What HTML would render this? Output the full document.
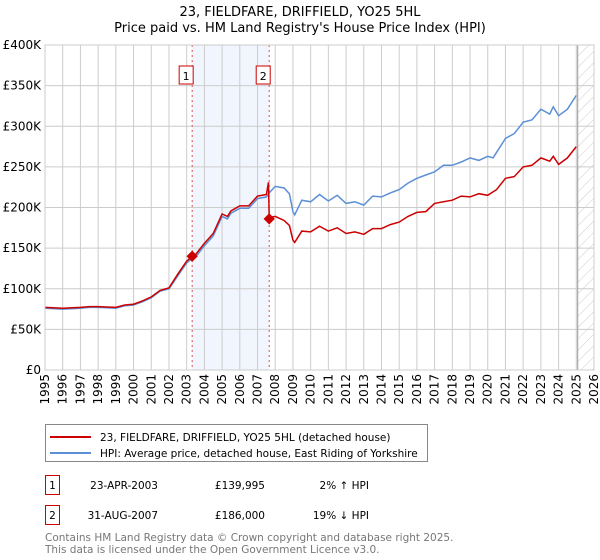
<!DOCTYPE html>
<html><head><meta charset="utf-8">
<style>
body{margin:0;background:#fff;font-family:"Liberation Sans","DejaVu Sans",sans-serif;}
#wrap{position:relative;width:600px;height:560px;overflow:hidden;}
svg text{font-family:"DejaVu Sans","Liberation Sans",sans-serif;}
</style></head>
<body>
<div id="wrap">
<svg id="chart" width="600" height="560"></svg>
</div>
<script>
const hpiYears=[1995,1996,1997,1997.5,1998,1999,1999.5,2000,2000.5,2001,2001.5,2002,2002.5,2003,2003.3,2003.5,2004,2004.5,2005,2005.3,2005.5,2006,2006.5,2007,2007.5,2007.7,2008,2008.5,2008.8,2009,2009.1,2009.5,2010,2010.5,2011,2011.5,2012,2012.5,2013,2013.5,2014,2014.5,2015,2015.5,2016,2016.5,2017,2017.5,2018,2018.5,2019,2019.5,2020,2020.3,2020.5,2021,2021.5,2022,2022.5,2023,2023.5,2023.7,2024,2024.5,2025];
const hpiValues=[76,75,76,77,77,76,79,80,84,89,97,100,116,132,137,139,153,165,189,186,193,199,199,211,213,219,226,224,217,195,191,209,207,216,208,215,205,207,203,214,213,218,222,230,236,240,244,252,252,256,261,258,263,261,268,285,291,305,308,321,315,324,313,321,338];
const redYears=[1995,1996,1997,1997.5,1998,1999,1999.5,2000,2000.5,2001,2001.5,2002,2002.5,2003,2003.31,2003.5,2004,2004.5,2005,2005.3,2005.5,2006,2006.5,2007,2007.5,2007.62,2007.66,2007.7,2008,2008.5,2008.8,2009,2009.1,2009.5,2010,2010.5,2011,2011.5,2012,2012.5,2013,2013.5,2014,2014.5,2015,2015.5,2016,2016.5,2017,2017.5,2018,2018.5,2019,2019.5,2020,2020.5,2021,2021.5,2022,2022.5,2023,2023.5,2023.7,2024,2024.5,2025];
const redValues=[77,76,77,78,78,77,80,81,85,90,98,101,118,134,140,142,156,168,192,189,196,202,202,214,216,231,186,188,189,184,178,160,157,171,170,177,171,175,168,170,167,174,174,179,182,189,194,195,205,207,209,214,213,217,215,222,236,238,250,252,261,257,263,253,261,275];
const sales=[{n:"1",t:2003.31,v:139.995},{n:"2",t:2007.66,v:186}];
const yTicks=[0,50,100,150,200,250,300,350,400];
const yTickLabels=["£0","£50K","£100K","£150K","£200K","£250K","£300K","£350K","£400K"];
const xTicks=[1995,1996,1997,1998,1999,2000,2001,2002,2003,2004,2005,2006,2007,2008,2009,2010,2011,2012,2013,2014,2015,2016,2017,2018,2019,2020,2021,2022,2023,2024,2025,2026];

const L=45,R=594,T=45,B=370,X0=1995,X1=2026;
const xs=t=>L+(t-X0)/(X1-X0)*(R-L);
const ys=v=>B-v/400*(B-T);
const svg=document.getElementById('chart');
const NS='http://www.w3.org/2000/svg';
function mk(tag,attrs,parent){const e=document.createElementNS(NS,tag);for(const k in attrs)e.setAttribute(k,attrs[k]);(parent||svg).appendChild(e);return e;}

let e;
e=mk('text',{x:300,y:16,'text-anchor':'middle','font-size':13,fill:'#000'});e.textContent='23, FIELDFARE, DRIFFIELD, YO25 5HL';


e=mk('text',{x:300,y:32,'text-anchor':'middle','font-size':13,fill:'#000'});e.textContent="Price paid vs. HM Land Registry's House Price Index (HPI)";



e=mk('rect',{x:xs(sales[0].t),y:T,width:xs(sales[1].t)-xs(sales[0].t),height:B-T,fill:'#eef3fc',opacity:0.8});


const defs=mk('defs',{});
const pat=mk('pattern',{id:'hatch',width:8,height:8,patternUnits:'userSpaceOnUse',patternTransform:'rotate(45)'},defs);
mk('line',{x1:0,y1:0,x2:0,y2:8,stroke:'#ccc','stroke-width':1},pat);
const hx=xs(2025.08);
e=mk('rect',{x:hx,y:T,width:R-hx,height:B-T,fill:'url(#hatch)'});



yTicks.forEach((v,i)=>{
  e=mk('line',{x1:L,x2:R,y1:ys(v),y2:ys(v),stroke:'#ccc','stroke-width':1});
  
  
  e=mk('text',{x:L-4,y:ys(v)+4,'text-anchor':'end','font-size':12,fill:'#000'});e.textContent=yTickLabels[i];
  
  
});
xTicks.forEach(t=>{
  e=mk('line',{x1:xs(t),x2:xs(t),y1:T,y2:B,stroke:'#ccc','stroke-width':1});
  
  
  e=mk('text',{x:0,y:0,'text-anchor':'end','font-size':12,fill:'#000',transform:`translate(${xs(t)+4},${B+4}) rotate(-90)`});e.textContent=t;
  
  
});
e=mk('line',{x1:hx,x2:hx,y1:T,y2:B,stroke:'#999','stroke-width':1});



sales.forEach(s=>{
  e=mk('line',{x1:xs(s.t),x2:xs(s.t),y1:T,y2:B,stroke:'#e05050','stroke-width':1,'stroke-dasharray':'2,3'});
  
  
});

function pts(xsA,vs){return xsA.map((t,i)=>xs(t).toFixed(1)+','+ys(vs[i]).toFixed(1)).join(' ');}
e=mk('polyline',{points:pts(hpiYears,hpiValues),fill:'none',stroke:'#5b8fd6','stroke-width':1.5});


e=mk('polyline',{points:pts(redYears,redValues),fill:'none',stroke:'#cc0000','stroke-width':1.5});



sales.forEach(s=>{
  e=mk('rect',{x:xs(s.t)-4,y:ys(s.v)-4,width:8,height:8,fill:'#cc0000',transform:`rotate(45 ${xs(s.t)} ${ys(s.v)})`});
  
  
  const bx=xs(s.t)-13;
  e=mk('rect',{x:bx,y:66,width:14,height:18,fill:'#fff',stroke:'#cc0000','stroke-width':1});
  
  
  e=mk('text',{x:bx+7,y:80,'text-anchor':'middle','font-size':11,fill:'#000'});e.textContent=s.n;
  
  
});
e=mk('rect',{x:L,y:T,width:R-L,height:B-T,fill:'none',stroke:'#ccc'});



const lg=mk('g',{});


mk('rect',{x:45.5,y:424.5,width:382,height:37,fill:'#fff',stroke:'#888'},lg);
mk('line',{x1:50,x2:91,y1:437,y2:437,stroke:'#cc0000','stroke-width':2},lg);
mk('line',{x1:50,x2:91,y1:453,y2:453,stroke:'#5b8fd6','stroke-width':2},lg);
e=mk('text',{x:100,y:441,'font-size':10.5,fill:'#000'},lg);e.textContent='23, FIELDFARE, DRIFFIELD, YO25 5HL (detached house)';


e=mk('text',{x:100,y:457,'font-size':10.5,fill:'#000'},lg);e.textContent='HPI: Average price, detached house, East Riding of Yorkshire';



const rows=[["1","23-APR-2003","£139,995","2% ↑ HPI",476],["2","31-AUG-2007","£186,000","19% ↓ HPI",506]];
rows.forEach(r=>{
  const y=r[4];
  e=mk('rect',{x:45.5,y:y-0.5,width:14,height:19,fill:'#fff',stroke:'#cc0000'});
  
  
  e=mk('text',{x:52.5,y:y+13,'text-anchor':'middle','font-size':10.5,fill:'#000'});e.textContent=r[0];
  
  
  e=mk('text',{x:158,y:y+13,'text-anchor':'end','font-size':10.5,fill:'#000'});e.textContent=r[1];
  
  
  e=mk('text',{x:265,y:y+13,'text-anchor':'end','font-size':10.5,fill:'#000'});e.textContent=r[2];
  
  
  e=mk('text',{x:369,y:y+13,'text-anchor':'end','font-size':10.5,fill:'#000'});e.textContent=r[3];
  
  
});
e=mk('text',{x:45,y:541,'font-size':10.5,fill:'#777'});e.textContent='Contains HM Land Registry data © Crown copyright and database right 2025.';


e=mk('text',{x:45,y:553,'font-size':10.5,fill:'#777'});e.textContent='This data is licensed under the Open Government Licence v3.0.';


</script>
</body></html>
